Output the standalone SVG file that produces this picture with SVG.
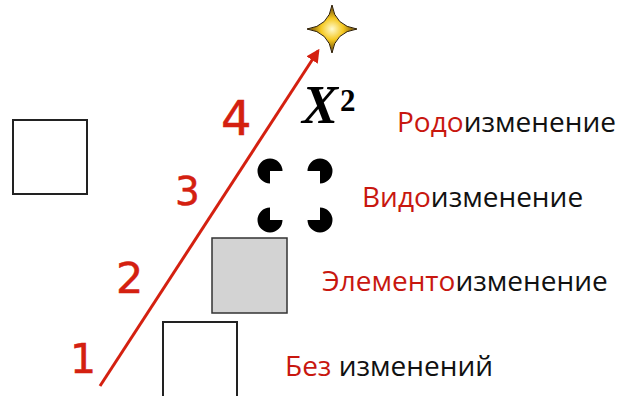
<svg xmlns="http://www.w3.org/2000/svg" width="625" height="396" viewBox="0 0 625 396">
<defs>
<style>
.lbl{font-family:"Open Sans","DejaVu Sans",sans-serif;font-size:28px;fill:#111}
.red{fill:#c8170f}
.num{font-family:"DejaVu Sans","Liberation Sans",sans-serif;fill:#d42010;stroke:#d42010;stroke-width:0.5}
.box{fill:#fff;stroke:#222;stroke-width:2}
</style>
<radialGradient id="sg" cx="0.5" cy="0.5" r="0.5">
<stop offset="0" stop-color="#fffbd0"/>
<stop offset="0.45" stop-color="#f5c820"/>
<stop offset="1" stop-color="#5a3a00"/>
</radialGradient>
<marker id="ah" viewBox="0 0 10 10" refX="8" refY="5" markerWidth="4.5" markerHeight="4.5" orient="auto">
<path d="M0,0 L10,5 L0,10 z" fill="#d42010"/>
</marker>
</defs>
<rect width="625" height="396" fill="#fff"/>
<g id="connectors">
<line x1="100" y1="386" x2="318" y2="51" stroke="#d42010" stroke-width="3" marker-end="url(#ah)"/>
</g>
<g id="nums">
<text class="num" x="221" y="135" font-size="48">4</text>
<text class="num" x="175" y="205" font-size="39">3</text>
<text class="num" x="116" y="293" font-size="43">2</text>
<text class="num" x="70" y="373" font-size="41">1</text>
</g>
<g id="star">
<path d="M332,5 Q335,26 357,29 Q335,32 332,53 Q329,32 307,29 Q329,26 332,5 z" fill="url(#sg)" stroke="#2a1a00" stroke-width="1"/>
</g>
<g id="box-left"><rect class="box" x="13" y="120" width="74" height="74"/></g>
<g id="box-gray"><rect x="212" y="238" width="75" height="75" fill="#d3d3d3" stroke="#333" stroke-width="1.5"/></g>
<g id="box-bottom"><rect class="box" x="163" y="322" width="74" height="80"/></g>
<g id="x2"><text x="302" y="123" font-family="'Liberation Serif',serif" font-style="italic" font-weight="bold" font-size="54" fill="#000">X<tspan font-size="31" dy="-12" dx="2" font-style="normal">2</tspan></text></g>
<g id="kanizsa" fill="#000">
<path d="M270,171 L282.5,171 A12.5,12.5 0 1 0 270,183.5 z"/>
<path d="M320,171 L320,183.5 A12.5,12.5 0 1 0 307.5,171 z"/>
<path d="M270,220 L270,207.5 A12.5,12.5 0 1 0 282.5,220 z"/>
<path d="M320,220 L307.5,220 A12.5,12.5 0 1 0 320,207.5 z"/>
</g>
<g id="labels">
<text class="lbl" x="397" y="132"><tspan class="red">Родо</tspan>изменение</text>
<text class="lbl" x="362" y="207"><tspan class="red">Видо</tspan>изменение</text>
<text class="lbl" x="322" y="291"><tspan class="red">Элементо</tspan>изменение</text>
<text class="lbl" x="285" y="376"><tspan class="red">Без</tspan> изменений</text>
</g>
</svg>
